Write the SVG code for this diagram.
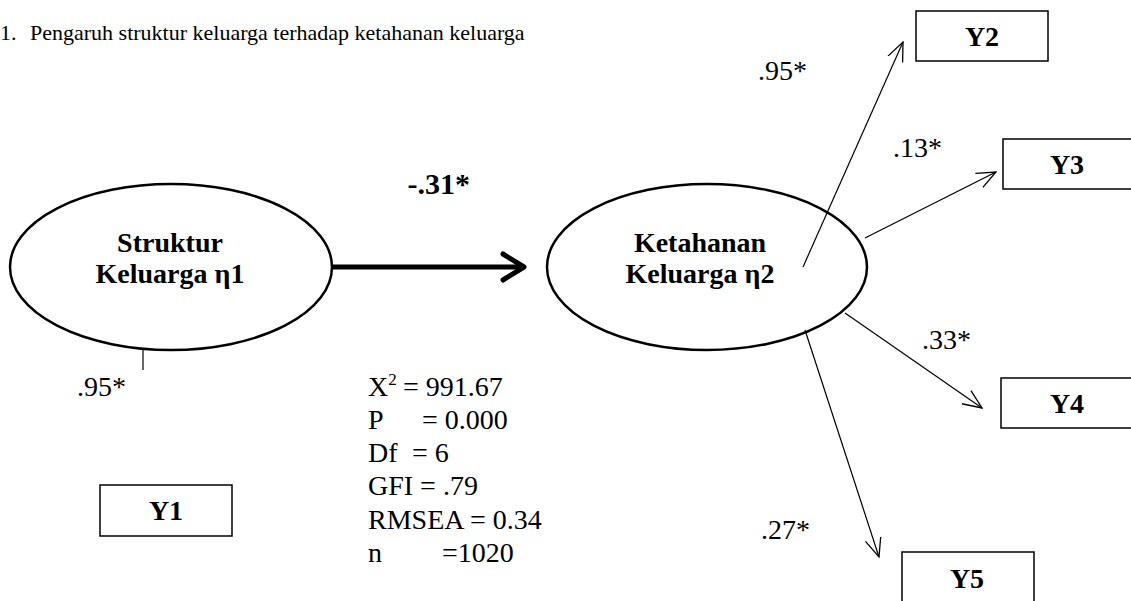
<svg xmlns="http://www.w3.org/2000/svg" width="1131" height="601" viewBox="0 0 1131 601">
<style>
text{font-family:"Liberation Serif","Times New Roman",serif;fill:#000}
.t{font-size:22px}
.r{font-size:28px}
.b{font-size:28px;font-weight:bold}
.c{text-anchor:middle}
.el{fill:#fff;stroke:#000;stroke-width:2.5}
.box{fill:#fff;stroke:#000;stroke-width:1.5}
.ln{fill:none;stroke:#000;stroke-width:1.2}
</style>
<defs>
<marker id="open" viewBox="0 0 20 20" refX="19" refY="10" markerWidth="20" markerHeight="20" markerUnits="userSpaceOnUse" orient="auto">
<path d="M0,2 L19,10 L0,18" fill="none" stroke="#000" stroke-width="1.3"/>
</marker>
</defs>
<text class="t" x="0" y="40">1.<tspan x="30">Pengaruh struktur keluarga terhadap ketahanan keluarga</tspan></text>
<g id="eta1">
<ellipse class="el" cx="171" cy="267" rx="161" ry="83"/>
<text class="b c" x="170" y="252">Struktur</text>
<text class="b c" x="170" y="283">Keluarga η1</text>
</g>
<g id="eta2">
<ellipse class="el" cx="707" cy="267" rx="160" ry="83"/>
<text class="b c" x="700" y="252">Ketahanan</text>
<text class="b c" x="700" y="283">Keluarga η2</text>
</g>
<g id="y1"><rect class="box" x="100" y="485" width="132" height="51"/><text class="b c" x="166" y="520">Y1</text></g>
<g id="y2"><rect class="box" x="916" y="11" width="132" height="50"/><text class="b c" x="982" y="46">Y2</text></g>
<g id="y3"><rect class="box" x="1003" y="139" width="132" height="50"/><text class="b c" x="1067" y="174">Y3</text></g>
<g id="y4"><rect class="box" x="1001" y="378" width="132" height="50"/><text class="b c" x="1067" y="413">Y4</text></g>
<g id="y5"><rect class="box" x="902" y="552" width="132" height="52"/><text class="b c" x="967" y="588">Y5</text></g>
<g id="connectors">
<line x1="333" y1="267" x2="522" y2="267" stroke="#000" stroke-width="5"/>
<path d="M503,254 L524,267 L503,280" fill="none" stroke="#000" stroke-width="5" stroke-linecap="round" stroke-linejoin="round"/>
<line class="ln" x1="143" y1="350" x2="143" y2="370"/>
<line class="ln" x1="803" y1="267" x2="903" y2="42" marker-end="url(#open)"/>
<line class="ln" x1="865" y1="238" x2="996" y2="172" marker-end="url(#open)"/>
<line class="ln" x1="845" y1="313" x2="982" y2="408" marker-end="url(#open)"/>
<line class="ln" x1="805" y1="330" x2="879" y2="557" marker-end="url(#open)"/>
</g>
<g id="labels">
<text class="b" x="470" y="194" style="text-anchor:end;font-size:30px">-.31*</text>
<text class="r" x="77" y="396">.95*</text>
<text class="r" x="758" y="80">.95*</text>
<text class="r" x="893" y="157">.13*</text>
<text class="r" x="922" y="349">.33*</text>
<text class="r" x="810" y="539" style="text-anchor:end">.27*</text>
</g>
<g id="fit">
<text class="r" x="368" y="396">X<tspan dy="-11" font-size="17">2</tspan><tspan x="403" dy="11">= 991.67</tspan></text>
<text class="r" x="368" y="429">P<tspan x="422">= 0.000</tspan></text>
<text class="r" x="368" y="462">Df<tspan x="412">= 6</tspan></text>
<text class="r" x="368" y="495">GFI = .79</text>
<text class="r" x="368" y="529">RMSEA = 0.34</text>
<text class="r" x="368" y="562">n<tspan x="442">=1020</tspan></text>
</g>
</svg>
